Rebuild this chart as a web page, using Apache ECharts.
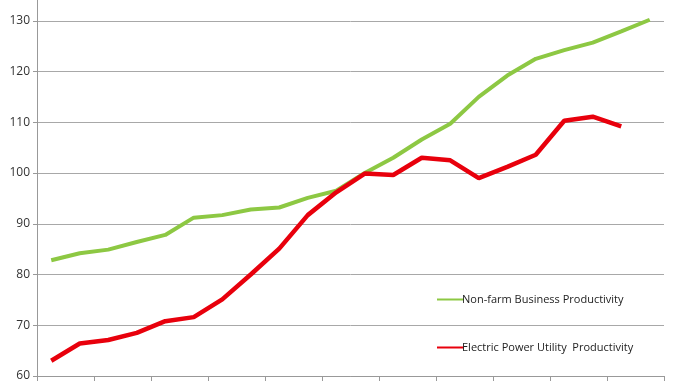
<!DOCTYPE html>
<html>
<head>
<meta charset="utf-8">
<script src="https://cdn.jsdelivr.net/npm/echarts@6/dist/echarts.min.js"></script>
<style>html,body{margin:0;padding:0;background:#fff;}#c{width:678px;height:381px;}</style>
</head>
<body>
<div id="c"></div>
<script>
const categories = ['1988','1989','1990','1991','1992','1993','1994','1995','1996','1997','1998','1999','2000','2001','2002','2003','2004','2005','2006','2007','2008','2009'];
const nonFarm = [82.8,84.2,84.9,86.4,87.8,91.2,91.7,92.8,93.2,95.1,96.5,100,103,106.6,109.7,115,119.2,122.5,124.2,125.7,127.9,130.2];
const electric = [63,66.4,67.1,68.5,70.8,71.6,75.1,80,85.1,91.7,96.2,99.9,99.6,103,102.5,99,101.2,103.6,110.3,111.1,109.2];
const yTicks = [60,70,80,90,100,110,120,130,140];

const chart = echarts.init(document.getElementById('c'));
chart.setOption({
  animation: false,
  backgroundColor: '#fff',
  grid: { left: 37, right: 14, top: -30, bottom: 5, containLabel: false, outerBoundsMode: 'none' },
  legend: {
    orient: 'vertical', left: 432, top: 289, itemGap: 37,
    icon: 'rect', itemWidth: 27, itemHeight: 2,
    textStyle: { fontFamily: 'Open Sans', fontSize: 11, color: '#222', padding: [0,0,0,-7] },
    data: ['Non-farm Business Productivity', 'Electric Power Utility  Productivity']
  },
  xAxis: {
    type: 'category', data: categories, boundaryGap: true,
    axisLine: { lineStyle: { color: '#999', width: 1 } },
    axisTick: { show: true, length: 6, lineStyle: { color: '#999' } },
    axisLabel: { show: false },
    splitLine: { show: false }
  },
  yAxis: {
    type: 'value', min: yTicks[0], max: yTicks[yTicks.length-1], interval: 10,
    axisLine: { show: true, lineStyle: { color: '#999', width: 1 } },
    axisTick: { show: true, length: 4, lineStyle: { color: '#999' } },
    axisLabel: { fontFamily: 'Open Sans', fontSize: 12, color: '#333', margin: 7 },
    splitLine: { lineStyle: { color: '#a8a8a8', width: 1 } }
  },
  series: [
    { name: 'Non-farm Business Productivity', type: 'line', data: nonFarm, showSymbol: false, symbol: 'none',
      lineStyle: { color: '#8dc843', width: 4 }, itemStyle: { color: '#8dc843' } },
    { name: 'Electric Power Utility  Productivity', type: 'line', data: electric, showSymbol: false, symbol: 'none',
      lineStyle: { color: '#e8000c', width: 4.5 }, itemStyle: { color: '#e8000c' } }
  ]
});
</script>
</body>
</html>
